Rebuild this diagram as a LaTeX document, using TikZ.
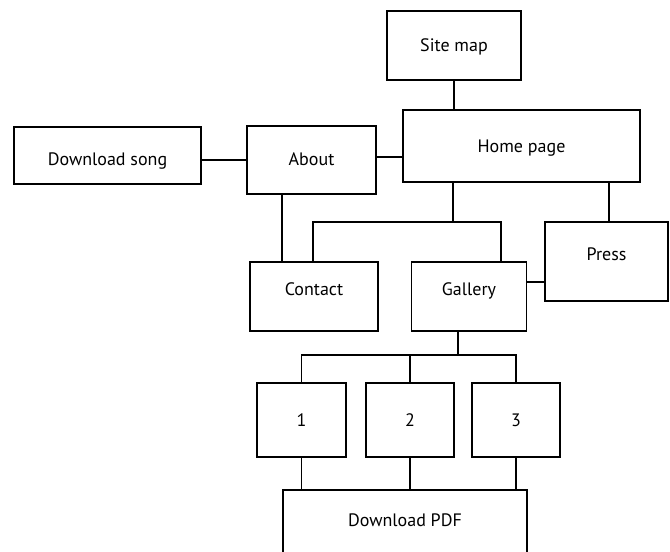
\documentclass[tikz,border=0pt]{standalone}
\usepackage{fontspec}
\setmainfont{PT Sans}
\begin{document}
\begin{tikzpicture}[x=1pt,y=-1pt,
  box/.style={draw, line width=1.5pt, inner sep=0pt, outer sep=0pt,
    text height=12.6pt, text depth=0pt, font=\fontsize{18}{21}\selectfont},
  link/.style={line width=1.5pt}]
\useasboundingbox (0,0) rectangle (670,552);
\node[box, minimum width=134pt, minimum height=69pt] (sitemap) at (454,45.5) {Site map};
\node[box, minimum width=237pt, minimum height=72pt] (home) at (521.5,146) {Home page};
\node[box, minimum width=129pt, minimum height=68pt, text depth=2pt] (about) at (311.5,160) {About};
\node[box, minimum width=187pt, minimum height=57pt, text height=19.6pt] (dsong) at (107.5,155.5) {Download song};
\node[box, minimum width=128pt, minimum height=69pt, text depth=14pt] (contact) at (314,296.5) {Contact};
\node[box, minimum width=115pt, minimum height=69pt, text depth=14pt] (gallery) at (469,296.5) {Gallery};
\node[box, minimum width=123pt, minimum height=79pt, text depth=14pt] (press) at (606.5,261.5) {Press};
\node[box, minimum width=89pt, minimum height=74pt] (b1) at (301.5,420) {1};
\node[box, minimum width=88pt, minimum height=74pt] (b2) at (410,420) {2};
\node[box, minimum width=88pt, minimum height=74pt] (b3) at (516,420) {3};
\node[box, minimum width=244pt, minimum height=80pt, text depth=19pt] (pdf) at (405,530) {Download PDF};
\coordinate (j1) at (453,222);
\coordinate (j2) at (458,355);
% connectors
\draw[link] (sitemap.south) -- (sitemap.south |- home.north);
\draw[link] (dsong.east |- about.west) -- (about.west);
\draw[link] ([yshift=3pt]about.east) -- ([yshift=3pt]about.east -| home.west);
\draw[link] ([xshift=-29.5pt]about.south) -- ([xshift=-29.5pt]about.south |- contact.north);
\draw[link] (home.south -| j1) -- (j1);
\draw[link] (contact.north -| 313,0) |- (j1) -| ([xshift=32pt]gallery.north);
\draw[link] ([xshift=87.5pt]home.south) -- ([xshift=87.5pt]home.south |- press.north);
\draw[link] ([yshift=14.5pt]gallery.east) -- ([yshift=14.5pt]gallery.east -| press.west);
\draw[link] (gallery.south -| j2) -- (j2);
\draw[link] (b1.north) |- (j2) -| (b3.north);
\draw[link] (b2.north) -- (b2.north |- j2);
\draw[link] (b1.south) -- (b1.south |- pdf.north);
\draw[link] (b2.south) -- (b2.south |- pdf.north);
\draw[link] (b3.south) -- (b3.south |- pdf.north);
\end{tikzpicture}
\end{document}
